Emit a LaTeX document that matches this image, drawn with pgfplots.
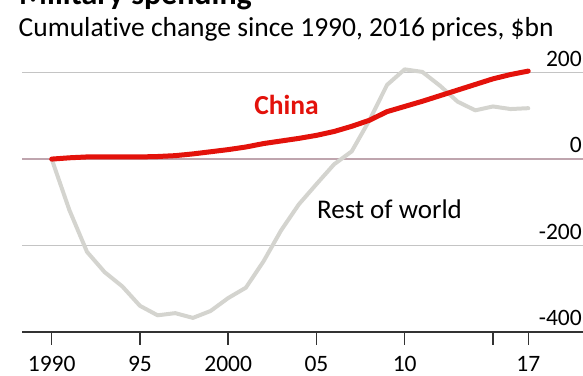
\documentclass[border=0pt]{standalone}
\usepackage{pgfplots}
\pgfplotsset{compat=1.18}
\usepackage{fontspec}
\setmainfont{Carlito}[Ligatures=NoCommon]
\definecolor{ecored}{HTML}{E3120B}
\definecolor{rowgray}{HTML}{D4D4CF}
\definecolor{gridgray}{HTML}{C4C4C4}
\definecolor{zeroline}{HTML}{BFA5AE}
\definecolor{axisdark}{HTML}{333333}

\pgfplotstableread{
year val
1990 0
1991 3
1992 5
1993 5
1994 5
1995 5
1996 6
1997 8
1998 12
1999 17
2000 22
2001 28
2002 36
2003 42
2004 48
2005 55
2006 64
2007 76
2008 90
2009 110
2010 122
2011 134
2012 147
2013 160
2014 173
2015 186
2016 196
2017 204
}\china

\pgfplotstableread{
year val
1990 0
1991 -118
1992 -215
1993 -262
1994 -295
1995 -340
1996 -362
1997 -357
1998 -368
1999 -352
2000 -322
2001 -298
2002 -237
2003 -165
2004 -105
2005 -58
2006 -12
2007 18
2008 90
2009 172
2010 208
2011 202
2012 170
2013 133
2014 113
2015 122
2016 116
2017 118
}\rest

\begin{document}
\begin{tikzpicture}
\useasboundingbox (0,0) rectangle (583pt,375pt);
\clip (0,0) rectangle (583pt,375pt);
\node[anchor=base west, inner sep=0pt, font=\bfseries\fontsize{32}{36}\selectfont] at (19pt,370pt) {Military spending};
\node[anchor=base west, inner sep=0pt, font=\fontsize{27.5}{32}\selectfont] at (18.5pt,338.5pt) {Cumulative change since 1990, 2016 prices, \$bn};
\begin{axis}[
 at={(22pt,43.3pt)}, anchor=south west,
 x=17.65pt, y=0.4315pt,
 xmin=1988.317, xmax=2020.1, ymin=-400, ymax=250,
 axis x line*=bottom, axis y line*=right,
 x axis line style={draw=axisdark, line width=1.8pt, -},
 y axis line style={draw=none},
 xtick={1990,1995,2000,2005,2010,2015,2017},
 xticklabels={1990,95,2000,05,10,,17},
 tick align=outside,
 xtick style={draw=axisdark, line width=1.5pt},
 major tick length=13pt,
 ytick={-400,-200,200}, yticklabels={-400,-200,200},
 extra y ticks={0}, extra y tick labels={0},
 ytick style={draw=none},
 ymajorgrids, grid style={draw=gridgray, line width=1.2pt},
 extra y tick style={grid style={draw=zeroline, line width=1.8pt}, ytick style={draw=none}},
 yticklabel style={anchor=south east, inner sep=0pt, xshift=-14pt, yshift=6pt},
 xticklabel style={yshift=-8pt},
 ticklabel style={font=\fontsize{23.5}{26}\selectfont},
 clip=false,
]
\addplot[rowgray, line width=4pt, line join=round, line cap=round] table[x=year,y=val] {\rest};
\addplot[ecored, line width=5pt, line join=round, line cap=round] table[x=year,y=val] {\china};
\end{axis}
\node[anchor=base, inner sep=0pt, text=ecored, font=\bfseries\fontsize{27.5}{30}\selectfont] at (286.5pt,260pt) {China};
\node[anchor=base west, inner sep=0pt, font=\fontsize{27}{30}\selectfont] at (317pt,156.7pt) {Rest of world};
\end{tikzpicture}
\end{document}
